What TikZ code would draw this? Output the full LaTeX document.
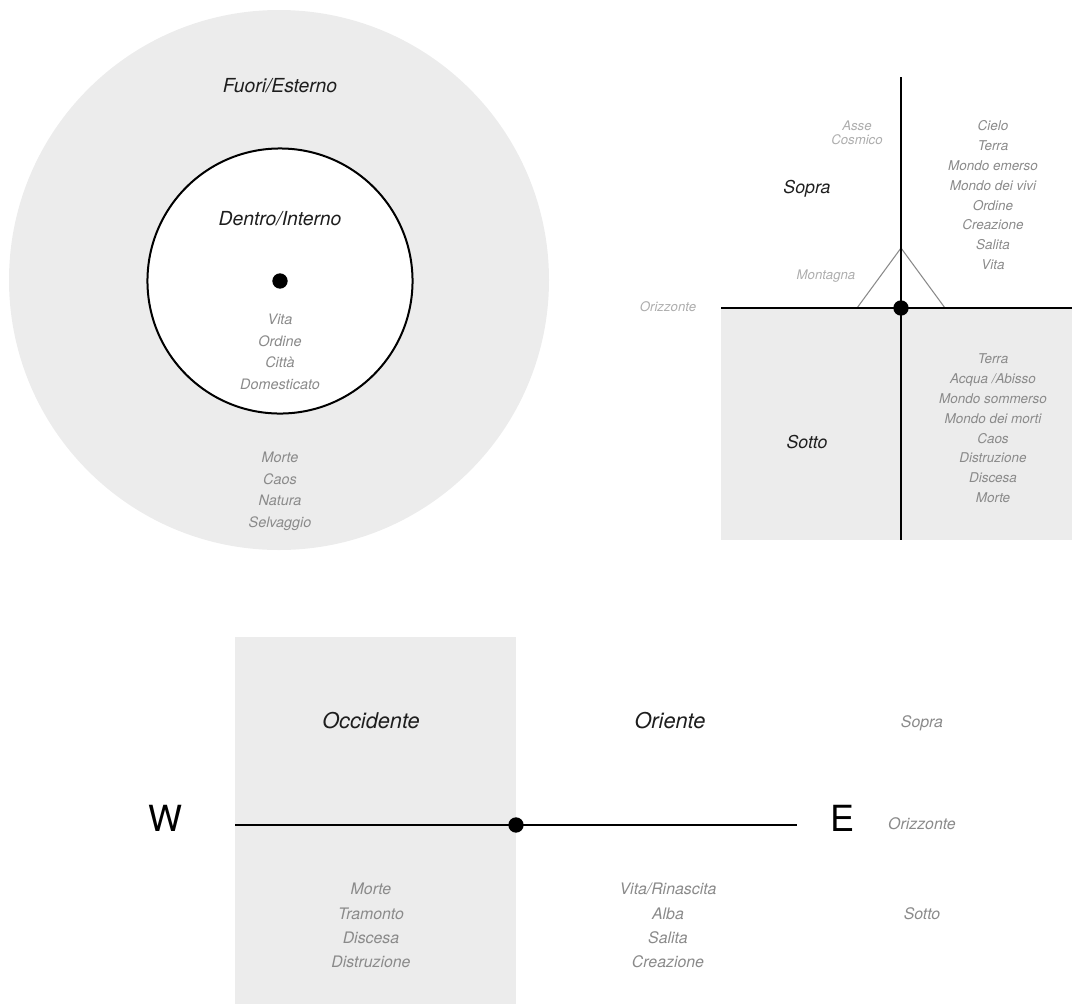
\documentclass[tikz,border=0pt]{standalone}
\usepackage{fontspec}
\setmainfont{TeX Gyre Heros}
\definecolor{zonefill}{HTML}{ECECEC}
\definecolor{listgray}{HTML}{8A8A8A}
\definecolor{paleg}{HTML}{ADADAD}
\definecolor{ink}{HTML}{1E1E1E}
\begin{document}
\begin{tikzpicture}[x=0.75pt,y=-0.75pt,
  lbl/.style={inner sep=0pt,text height=0.72em,text depth=0pt,font=\itshape},
  head/.style={lbl,text=ink,font=\fontsize{14.5}{16}\selectfont\itshape},
  sidehead/.style={lbl,text=ink,font=\fontsize{13.3}{15}\selectfont\itshape},
  bighead/.style={lbl,text=ink,font=\fontsize{16.3}{18}\selectfont\itshape},
  item/.style={lbl,text=listgray,font=\fontsize{10.8}{12}\selectfont\itshape},
  smallitem/.style={lbl,text=listgray,font=\fontsize{10.1}{12}\selectfont\itshape},
  wideitem/.style={lbl,text=listgray,font=\fontsize{11.9}{14}\selectfont\itshape},
  note/.style={lbl,text=paleg,font=\fontsize{9.9}{11}\selectfont\itshape},
  compass/.style={inner sep=0pt,text height=0.72em,text depth=0pt,text=black,font=\fontsize{27}{30}\selectfont},
  axis/.style={line width=1.4pt,black},
  centre/.style={circle,fill=black,inner sep=0pt,minimum size=11.5pt}]

\useasboundingbox (0,0) rectangle (1072,1004);

% ---------------- inside / outside ----------------
\fill[zonefill] (279,280) circle[radius=202.5pt];
\filldraw[fill=white,draw=black,line width=1.5pt] (280,281) circle[radius=99.4pt];
\node[centre] (c1) at (280,281) {};
\node[head] (fuori) at (280,87.5) {Fuori/Esterno};
\node[head] (dentro) at (280,221) {Dentro/Interno};
\foreach [count=\i] \t in {Vita,Ordine,Città,Domesticato}
  \node[item] (in\i) at (280,{320+21.4*(\i-1)}) {\t};
\foreach [count=\i] \t in {Morte,Caos,Natura,Selvaggio}
  \node[item] (out\i) at (280,{458+21.4*(\i-1)}) {\t};

% ---------------- above / below ----------------
\coordinate (hzL) at (721,308);
\coordinate (hzR) at (1072,308);
\coordinate (axT) at (901,77);
\coordinate (axB) at (901,540);
\fill[zonefill] (721,308) rectangle (1072,540);
\coordinate (peak) at (901,248);
\coordinate (footL) at (857,308);
\coordinate (footR) at (945,308);
\draw[paleg!80!black,line width=0.8pt] (footL) -- (peak) -- (footR);
\draw[axis] (hzL) -- (hzR);
\draw[axis] (axT) -- (axB);
\node[centre] (c2) at (901,308) {};

\node[note] (asse) at (857,126) {Asse};
\node[note] (cosmico) at (857,139.7) {Cosmico};
\node[note] (montagna) at (826,275) {Montagna};
\node[note] (orizz) at (668,307) {Orizzonte};
\node[sidehead] (sopra) at (807,189) {Sopra};
\node[sidehead] (sotto) at (807,444) {Sotto};
\foreach [count=\i] \t in {Cielo,Terra,Mondo emerso,Mondo dei vivi,Ordine,Creazione,Salita,Vita}
  \node[smallitem] (up\i) at (993,{126+19.8*(\i-1)}) {\t};
\foreach [count=\i] \t in {Terra,Acqua /Abisso,Mondo sommerso,Mondo dei morti,Caos,Distruzione,Discesa,Morte}
  \node[smallitem] (dn\i) at (993,{359+19.8*(\i-1)}) {\t};

% ---------------- west / east ----------------
\fill[zonefill] (235,637) rectangle (516,1004);
\coordinate (wEnd) at (235,825);
\coordinate (eEnd) at (797,825);
\draw[axis] (wEnd) -- (eEnd);
\node[centre] (c3) at (516,825) {};
\node[compass] (W) at (165,827) {W};
\node[compass] (E) at (842,827) {E};
\node[bighead] (occ) at (371,724) {Occidente};
\node[bighead] (ori) at (670,724) {Oriente};
\foreach [count=\i] \t in {Morte,Tramonto,Discesa,Distruzione}
  \node[wideitem] (w\i) at (371,{890+24.3*(\i-1)}) {\t};
\foreach [count=\i] \t in {Vita/Rinascita,Alba,Salita,Creazione}
  \node[wideitem] (e\i) at (668,{890+24.3*(\i-1)}) {\t};
\node[wideitem] (ksopra) at (922,723) {Sopra};
\node[wideitem] (korizz) at (922,825) {Orizzonte};
\node[wideitem] (ksotto) at (922,915) {Sotto};
\end{tikzpicture}
\end{document}
